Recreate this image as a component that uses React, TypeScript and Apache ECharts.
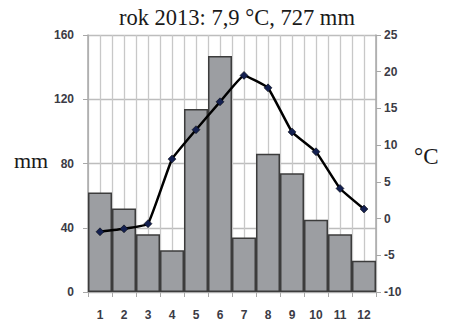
import React, { useEffect, useRef } from "react";
import * as echarts from "echarts";

const months = ["1", "2", "3", "4", "5", "6", "7", "8", "9", "10", "11", "12"];
const precipitation = [62, 52, 36, 26, 114, 147, 34, 86, 74, 45, 36, 19.5];
const temperature = [-1.8, -1.4, -0.7, 8.1, 12.1, 15.9, 19.5, 17.8, 11.8, 9.1, 4.1, 1.3];
const titleText = "rok 2013: 7,9 °C, 727 mm";

export default function App() {
  const ref = useRef<HTMLDivElement>(null);
  useEffect(() => {
    if (!ref.current) return;
    const chart = echarts.init(ref.current, undefined, { renderer: "svg" });
    const labelStyle = {
      color: "#3b3b45",
      fontFamily: "Liberation Sans",
      fontWeight: "bold" as const,
      fontSize: 12,
    };
    chart.setOption({
      animation: false,
      backgroundColor: "#ffffff",
      grid: { left: 88, right: 74, top: 35, bottom: 35 },
      graphic: [
        {
          type: "text",
          left: 119,
          top: 6,
          style: { text: titleText, font: "22.5px 'Liberation Serif'", fill: "#1a1a1a" },
        },
        {
          type: "text",
          left: 14,
          top: 149,
          style: { text: "mm", font: "22px 'Liberation Serif'", fill: "#1a1a1a" },
        },
        {
          type: "text",
          left: 414,
          top: 145,
          style: { text: "°C", font: "23px 'Liberation Serif'", fill: "#1a1a1a" },
        },
      ],
      xAxis: [
        {
          type: "category",
          data: months,
          boundaryGap: true,
          axisLine: { lineStyle: { color: "#a8a8a8", width: 1.5 } },
          axisTick: { show: true, length: 5, lineStyle: { color: "#a8a8a8" } },
          axisLabel: { ...labelStyle, margin: 17 },
          splitLine: { show: false },
        },
        {
          type: "value",
          min: 0,
          max: 24,
          interval: 1,
          position: "top",
          axisLine: { show: false },
          axisTick: { show: false },
          axisLabel: { show: false },
          splitLine: { show: true, lineStyle: { color: "#c8c8c8", width: 1.3 } },
        },
      ],
      yAxis: [
        {
          type: "value",
          min: 0,
          max: 160,
          interval: 40,
          axisLine: { show: true, lineStyle: { color: "#a8a8a8", width: 1.5 } },
          axisTick: { show: true, length: 5, lineStyle: { color: "#a8a8a8" } },
          axisLabel: { ...labelStyle, margin: 14 },
          splitLine: { show: true, lineStyle: { color: "#bdbdbd", width: 1.3 } },
        },
        {
          type: "value",
          min: -10,
          max: 25,
          interval: 5,
          position: "right",
          axisLine: { show: true, lineStyle: { color: "#a8a8a8", width: 1.5 } },
          axisTick: { show: true, length: 5, lineStyle: { color: "#a8a8a8" } },
          axisLabel: { ...labelStyle, margin: 8 },
          splitLine: { show: false },
        },
      ],
      series: [
        {
          type: "bar",
          xAxisIndex: 0,
          yAxisIndex: 0,
          data: precipitation,
          barCategoryGap: "0%",
          itemStyle: { color: "#9c9ea2", borderColor: "#3c3c3c", borderWidth: 1.5 },
        },
        {
          type: "line",
          xAxisIndex: 0,
          yAxisIndex: 1,
          data: temperature,
          smooth: 0.1,
          symbol: "diamond",
          symbolSize: 8,
          lineStyle: { color: "#000000", width: 2.5 },
          itemStyle: { color: "#142050", borderColor: "#000000", borderWidth: 0.5 },
          z: 5,
        },
      ],
    });
    return () => chart.dispose();
  }, []);
  return <div ref={ref} style={{ width: 450, height: 327, margin: -8 }} />;
}
